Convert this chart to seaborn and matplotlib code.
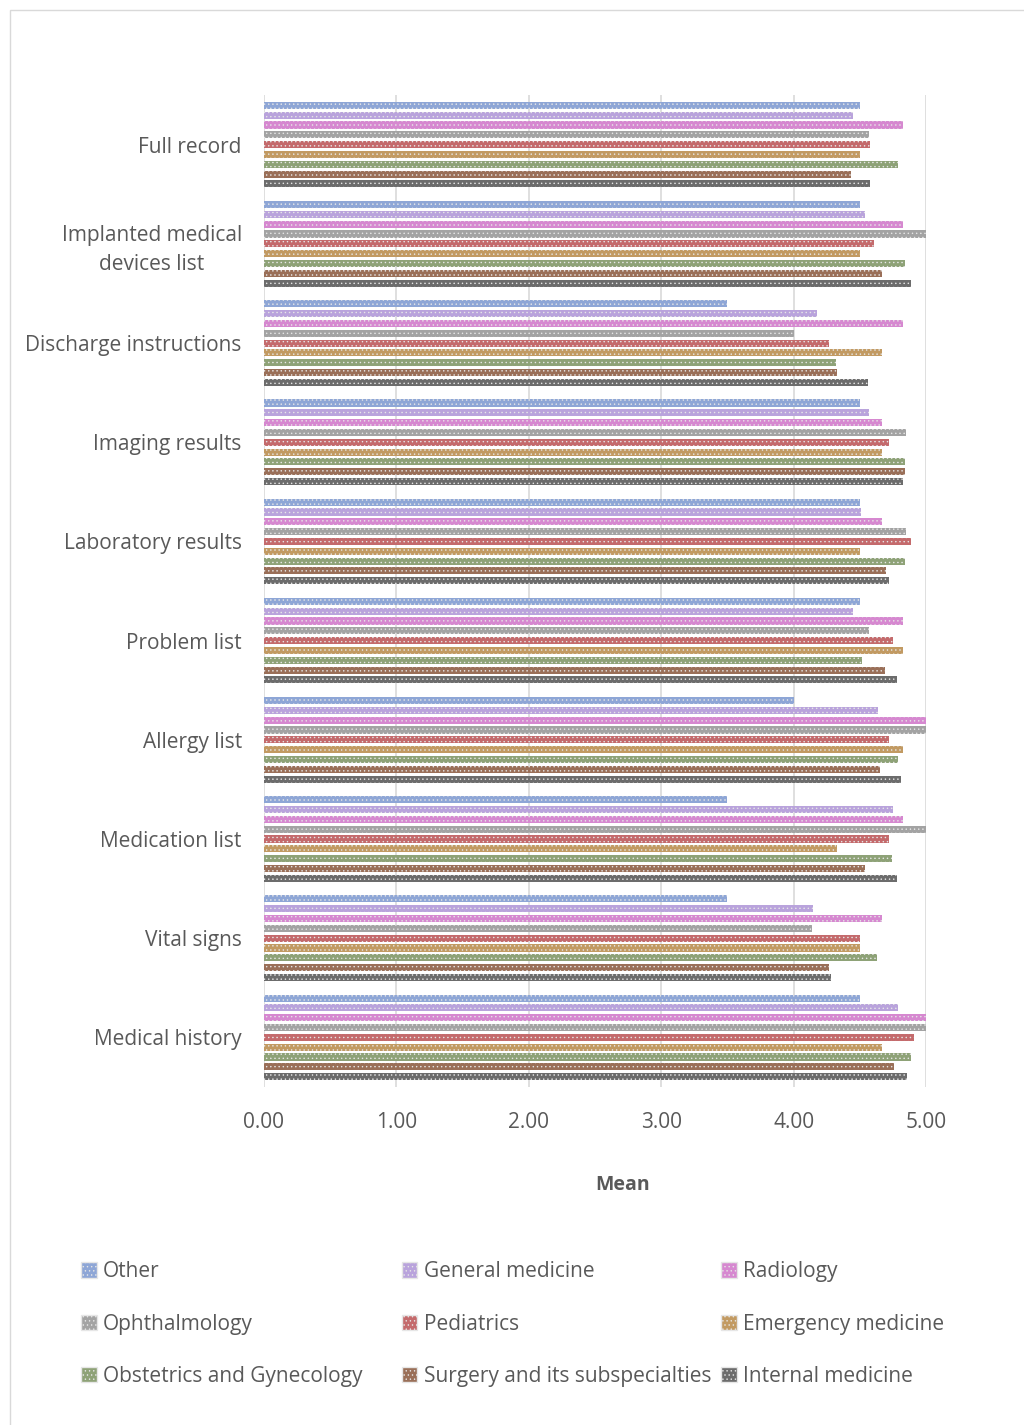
import matplotlib
matplotlib.use('Agg')
import matplotlib.pyplot as plt
import seaborn as sns
import pandas as pd
from matplotlib.patches import Rectangle

# categories, top to bottom
categories = ['Full record', 'Implanted medical\ndevices list', 'Discharge instructions',
              'Imaging results', 'Laboratory results', 'Problem list', 'Allergy list',
              'Medication list', 'Vital signs', 'Medical history']

specialties = ['Other', 'General medicine', 'Radiology', 'Ophthalmology', 'Pediatrics',
               'Emergency medicine', 'Obstetrics and Gynecology',
               'Surgery and its subspecialties', 'Internal medicine']

other        = [4.50, 4.50, 3.50, 4.50, 4.50, 4.50, 4.00, 3.50, 3.50, 4.50]
general_med  = [4.45, 4.54, 4.18, 4.57, 4.51, 4.45, 4.64, 4.75, 4.15, 4.79]
radiology    = [4.83, 4.83, 4.83, 4.67, 4.67, 4.83, 5.00, 4.83, 4.67, 5.00]
ophthalmo    = [4.57, 5.00, 4.00, 4.85, 4.85, 4.57, 5.00, 5.00, 4.14, 5.00]
pediatrics   = [4.58, 4.61, 4.27, 4.72, 4.89, 4.75, 4.72, 4.72, 4.50, 4.91]
emergency    = [4.50, 4.50, 4.67, 4.67, 4.50, 4.83, 4.83, 4.33, 4.50, 4.67]
obgyn        = [4.79, 4.84, 4.32, 4.84, 4.84, 4.52, 4.79, 4.74, 4.63, 4.89]
surgery      = [4.43, 4.67, 4.33, 4.84, 4.70, 4.69, 4.65, 4.54, 4.27, 4.76]
internal_med = [4.58, 4.89, 4.56, 4.83, 4.72, 4.78, 4.81, 4.78, 4.28, 4.86]

colors = ['#8ea6d6', '#b9a3dc', '#d688d0', '#a3a3a3', '#c46a6c',
          '#c29a62', '#8ea277', '#9a6f58', '#6c6c6c']

series = [other, general_med, radiology, ophthalmo, pediatrics,
          emergency, obgyn, surgery, internal_med]
rows = []
for spec, vals in zip(specialties, series):
    for cat, v in zip(categories, vals):
        rows.append({'Category': cat, 'Specialty': spec, 'Mean': v})
df = pd.DataFrame(rows)

sns.set_style('white')
plt.rcParams['font.family'] = ['Open Sans', 'DejaVu Sans']
plt.rcParams['hatch.linewidth'] = 0.5
txt = '#595959'
dots = '#e6e6e6'

fig = plt.figure(figsize=(10.24, 14.25), dpi=100)
ax = fig.add_axes([0.2578, 0.2372, 0.6465, 0.6961])

sns.barplot(data=df, y='Category', x='Mean', hue='Specialty', order=categories,
            hue_order=specialties, palette=colors, orient='h', width=0.89, gap=0.28,
            saturation=1, ax=ax, legend=True)

for cont in ax.containers:
    for bar in cont:
        bar.set_hatch('....')
        bar.set_edgecolor(dots)
        bar.set_linewidth(0)

ax.set_xlim(0, 5)
ax.set_xticks([0, 1, 2, 3, 4, 5])
ax.set_xticklabels([f'{v:.2f}' for v in range(6)], fontsize=15, color=txt)
ax.xaxis.grid(True, color='#d9d9d9', linewidth=1.2)
ax.set_axisbelow(True)
for s in ax.spines.values():
    s.set_visible(False)
ax.tick_params(axis='both', length=0)
ax.tick_params(axis='y', pad=16)
ax.tick_params(axis='x', pad=18)
for lab in ax.get_yticklabels():
    lab.set_fontsize(15)
    lab.set_color(txt)
    lab.set_multialignment('center')
    lab.set_linespacing(1.45)
ax.set_ylabel('')
ax.set_xlabel('Mean', fontsize=14, fontweight='bold', color=txt)
ax.xaxis.set_label_coords(0.541, -0.0885)

# legend: three columns, each its own legend so the columns sit where they should
handles, labels = ax.get_legend_handles_labels()
ax.get_legend().remove()
col_x = [0.061, 0.374, 0.686]
for c in range(3):
    idx = [c, c + 3, c + 6]
    leg = fig.legend([handles[k] for k in idx], [labels[k] for k in idx],
                     loc='upper left', bbox_to_anchor=(col_x[c], 0.128), frameon=False,
                     fontsize=15, handlelength=0.75, handleheight=0.75, handletextpad=0.3,
                     labelspacing=1.5, labelcolor=txt)
    for h in leg.legend_handles:
        h.set_hatch('....')
        h.set_edgecolor(dots)

fig.patches.append(Rectangle((0.0098, -0.01), 1.0, 1.003, transform=fig.transFigure,
                             fill=False, edgecolor='#d9d9d9', linewidth=1))

fig.savefig('out.png', dpi=100, facecolor='white')
